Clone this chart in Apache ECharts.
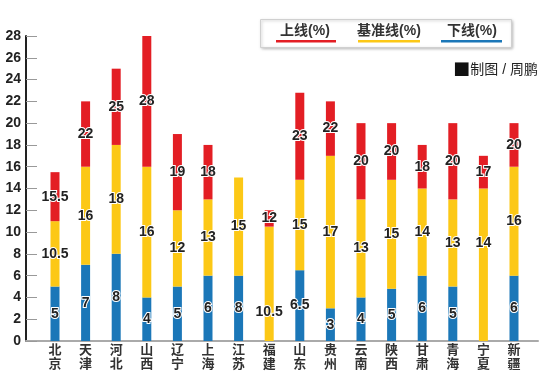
<!DOCTYPE html>
<html><head><meta charset="utf-8">
<script src="https://cdn.jsdelivr.net/npm/echarts@6/dist/echarts.min.js"></script>
<style>html,body{margin:0;padding:0;background:#fff}#c{width:550px;height:382px}</style>
</head><body><div id="c"></div>
<script>
var categories = ['北京','天津','河北','山西','辽宁','上海','江苏','福建','山东','贵州','云南','陕西','甘肃','青海','宁夏','新疆'];
// cumulative tops of each segment as drawn
var lowerTop = [5,7,8,4,5,6,6,0,6.5,3,4,4.8,6,5,0,6];
var baseTop  = [11,16,18,16,12,13,15,10.5,14.8,17,13,14.8,14,13,14,16];
var upperTop = [15.5,22,25,28,19,18,15,12,22.8,22,20,20,18,20,17,20];
// labels as printed
var lowerLabels = ['5','7','8','4','5','6','8','','6.5','3','4','5','6','5','','6'];
var baseLabels  = ['10.5','16','18','16','12','13','15','10.5','15','17','13','15','14','13','14','16'];
var upperLabels = ['15.5','22','25','28','19','18','','12','23','22','20','20','18','20','17','20'];
var yTicks = [0,2,4,6,8,10,12,14,16,18,20,22,24,26,28];

var FONT = '"Liberation Sans","Noto Sans CJK SC",sans-serif';
var RED = '#e31e24', YEL = '#fcc816', BLU = '#1b77b8';

function seg(i, kind){
  if (kind === 'lower') return lowerTop[i];
  if (kind === 'base') return +(baseTop[i] - lowerTop[i]).toFixed(2);
  return +(upperTop[i] - baseTop[i]).toFixed(2);
}
var labOffsets = {base: {7: [0, 28], 14: [0, -22]}};
function build(kind){
  return categories.map(function(c, i){
    var item = {value: seg(i, kind)};
    if (labOffsets[kind] && labOffsets[kind][i]) item.label = {offset: labOffsets[kind][i]};
    return item;
  });
}
var lab = {show: true, position: 'inside', fontFamily: FONT, fontSize: 14, fontWeight: 'bold', color: '#222', textBorderColor: '#fff', textBorderWidth: 2};
function mkLab(labels){
  return Object.assign({}, lab, {formatter: function(p){ return labels[p.dataIndex]; }});
}

var chart = echarts.init(document.getElementById('c'));
chart.setOption({
  animation: false,
  grid: [
    {left: 26, right: 12, top: 36, bottom: 41},
    {left: 39.7, right: 20.7, top: 36, bottom: 41}
  ],
  xAxis: [
    {gridIndex: 0, type: 'value', min: 0, max: 1, axisLine: {show: true, lineStyle: {color: '#aaa', width: 2}}, axisTick: {show: false}, axisLabel: {show: false}, splitLine: {show: false}},
    {gridIndex: 1, type: 'category', data: categories, axisLine: {show: false}, axisTick: {show: false},
     axisLabel: {margin: 2, fontFamily: FONT, fontSize: 13, fontWeight: 'bold', color: '#333', lineHeight: 14, interval: 0,
       formatter: function(v){ return v.split('').join('\n'); }}}
  ],
  yAxis: [
    {gridIndex: 0, type: 'value', min: 0, max: 28, interval: 2,
     axisLine: {show: true, lineStyle: {color: '#222', width: 2}},
     axisTick: {show: true, inside: true, length: 11, lineStyle: {color: '#999', width: 1}},
     axisLabel: {margin: 5, fontFamily: FONT, fontSize: 14, fontWeight: 'bold', color: '#222',
       formatter: function(v){ return yTicks.indexOf(v) >= 0 ? String(v) : ''; }},
     splitLine: {show: false}},
    {gridIndex: 1, type: 'value', min: 0, max: 28, interval: 2, show: false, splitLine: {show: false}}
  ],
  series: [
    {name: '下线(%)', type: 'bar', xAxisIndex: 1, yAxisIndex: 1, stack: 's', barWidth: 9, data: build('lower'), itemStyle: {color: BLU}, label: mkLab(lowerLabels)},
    {name: '基准线(%)', type: 'bar', xAxisIndex: 1, yAxisIndex: 1, stack: 's', barWidth: 9, data: build('base'), itemStyle: {color: YEL}, label: mkLab(baseLabels)},
    {name: '上线(%)', type: 'bar', xAxisIndex: 1, yAxisIndex: 1, stack: 's', barWidth: 9, data: build('upper'), itemStyle: {color: RED}, label: mkLab(upperLabels)}
  ],
  graphic: [
    {type: 'rect', left: 260, top: 19, shape: {width: 251, height: 28}, style: {fill: '#fff', stroke: '#d0d0d0', lineWidth: 1, shadowBlur: 3, shadowColor: 'rgba(0,0,0,0.25)', shadowOffsetX: 1, shadowOffsetY: 1}},
    {type: 'text', x: 305, y: 31, style: {text: '上线(%)', fill: '#333', font: 'bold 14px ' + FONT, textAlign: 'center', textVerticalAlign: 'middle'}},
    {type: 'rect', shape: {x: 276, y: 40, width: 60, height: 2.5}, style: {fill: RED}},
    {type: 'text', x: 389, y: 31, style: {text: '基准线(%)', fill: '#333', font: 'bold 14px ' + FONT, textAlign: 'center', textVerticalAlign: 'middle'}},
    {type: 'rect', shape: {x: 358, y: 40, width: 62, height: 2.5}, style: {fill: YEL}},
    {type: 'text', x: 472, y: 31, style: {text: '下线(%)', fill: '#333', font: 'bold 14px ' + FONT, textAlign: 'center', textVerticalAlign: 'middle'}},
    {type: 'rect', shape: {x: 441, y: 40, width: 61, height: 2.5}, style: {fill: BLU}},
    {type: 'text', x: 538, y: 70, style: {text: '{sq|■}制图 / 周鹏', fill: '#222', font: '14px ' + FONT, textAlign: 'right', textVerticalAlign: 'middle',
      rich: {sq: {fontSize: 17, fontFamily: '"Noto Sans CJK SC"', fill: '#111'}}}}
  ]
});
</script></body></html>
